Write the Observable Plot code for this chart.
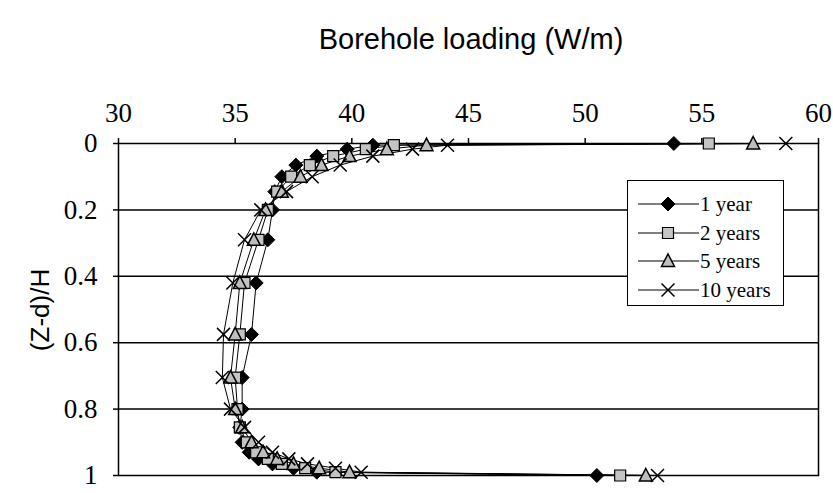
<!DOCTYPE html>
<html>
<head>
<meta charset="utf-8">
<script src="https://cdn.jsdelivr.net/npm/d3@7"></script>
<script src="https://cdn.jsdelivr.net/npm/@observablehq/plot@0.6"></script>
<style>
  html, body { margin: 0; padding: 0; background: #fff; }
  #wrap { position: relative; width: 833px; height: 493px; overflow: hidden; }
  #title { position: absolute; left: 0; width: 942px; top: 22px; text-align: center;
           font-family: "Liberation Sans", Arial, sans-serif; font-size: 29px; line-height: 34px; color: #000; }
  #ylabel { position: absolute; left: 40px; top: 310px; transform: translate(-50%, -50%) rotate(-90deg);
            font-family: "Liberation Sans", Arial, sans-serif; font-size: 26px; white-space: nowrap; color: #000; }
  #legend { position: absolute; left: 627px; top: 180px; width: 155px; height: 124px;
            border: 1.5px solid #000; background: #fff; }
  .row { position: absolute; left: 0; height: 28px; width: 155px; }
  .row svg { position: absolute; left: 8px; top: 0; }
  .row span { position: absolute; left: 72px; top: 0; line-height: 28px;
              font-family: "Liberation Serif", "Times New Roman", serif; font-size: 21px; color: #000; }
</style>
</head>
<body>
<div id="wrap">
  <div id="title"></div>
  <div id="ylabel"></div>
  <div id="chart"></div>
  <div id="legend"></div>
</div>
<script>
// ---- data ----
const titleText = "Borehole loading (W/m)";
const yLabelText = "(Z-d)/H";
const series = ["1 year", "2 years", "5 years", "10 years"];
const xTicks = [30, 35, 40, 45, 50, 55, 60];
const xTickLabels = ["30", "35", "40", "45", "50", "55", "60"];
const yTicks = [0, 0.2, 0.4, 0.6, 0.8, 1];
const yTickLabels = ["0", "0.2", "0.4", "0.6", "0.8", "1"];
const yGrid = [0.2, 0.4, 0.6, 0.8];

const depth = [0, 0.005, 0.017, 0.038, 0.065, 0.1, 0.145, 0.2, 0.29, 0.42, 0.575, 0.705, 0.8,
               0.855, 0.9, 0.93, 0.95, 0.965, 0.978, 0.99, 1.0];
const load1yr  = [53.8, 40.9, 39.8, 38.5, 37.6, 37.0, 36.7, 36.6, 36.4, 35.9, 35.7, 35.3, 35.3,
                  35.2, 35.3, 35.6, 36.0, 36.6, 37.5, 38.5, 50.5];
const load2yr  = [55.3, 41.8, 40.6, 39.2, 38.2, 37.4, 36.8, 36.4, 36.0, 35.4, 35.2, 35.0, 35.1,
                  35.2, 35.5, 35.9, 36.4, 37.0, 38.0, 39.3, 51.5];
const load5yr  = [57.2, 43.2, 41.5, 39.9, 38.7, 37.8, 37.0, 36.3, 35.8, 35.2, 35.0, 34.8, 35.0,
                  35.3, 35.7, 36.2, 36.8, 37.5, 38.6, 39.9, 52.6];
const load10yr = [58.6, 44.1, 42.6, 40.9, 39.5, 38.3, 37.2, 36.1, 35.4, 34.9, 34.5, 34.45, 34.8,
                  35.4, 36.0, 36.6, 37.3, 38.1, 39.3, 40.4, 53.1];

const loads = [load1yr, load2yr, load5yr, load10yr];
const rows = [];
series.forEach((s, k) => depth.forEach((d, i) => rows.push({series: s, depth: d, load: loads[k][i]})));

// ---- marker shapes ----
const diamondSym = {draw(c) { c.moveTo(0, -7); c.lineTo(7, 0); c.lineTo(0, 7); c.lineTo(-7, 0); c.closePath(); }};
const squareSym = {draw(c) { c.moveTo(-5.5, -5.5); c.lineTo(5.5, -5.5); c.lineTo(5.5, 5.5); c.lineTo(-5.5, 5.5); c.closePath(); }};
const triangleSym = {draw(c) { c.moveTo(0, -7); c.lineTo(6.5, 5.5); c.lineTo(-6.5, 5.5); c.closePath(); }};
const timesSym = {draw(c) { c.moveTo(-6.5, -6.5); c.lineTo(6.5, 6.5); c.moveTo(6.5, -6.5); c.lineTo(-6.5, 6.5); }};
const styles = [
  {symbol: diamondSym, fill: "#000", stroke: "#000", strokeWidth: 1},
  {symbol: squareSym, fill: "#c4c4c4", stroke: "#000", strokeWidth: 1.2},
  {symbol: triangleSym, fill: "#bdbdbd", stroke: "#000", strokeWidth: 1.5},
  {symbol: timesSym, fill: "none", stroke: "#000", strokeWidth: 1.5}
];

const dotMarks = series.map((s, k) => Plot.dot(rows.filter(r => r.series === s), {
  x: "load", y: "depth", symbol: styles[k].symbol, fill: styles[k].fill,
  stroke: styles[k].stroke, strokeWidth: styles[k].strokeWidth
}));

const chart = Plot.plot({
  width: 833, height: 493,
  marginLeft: 118, marginRight: 15, marginTop: 143, marginBottom: 18,
  style: {fontFamily: "Liberation Serif", fontSize: "27px", color: "#000", background: "transparent"},
  x: {domain: [30, 60]},
  y: {domain: [0, 1], reverse: true},
  marks: [
    Plot.ruleY(yGrid, {stroke: "#000", strokeWidth: 1.5}),
    Plot.frame({stroke: "#000", strokeWidth: 1.5}),
    Plot.axisX(xTicks, {anchor: "top", tickSize: 6, tickPadding: 16, strokeWidth: 1.5,
      tickFormat: d => xTickLabels[xTicks.indexOf(d)], label: null, fontSize: 27}),
    Plot.axisY(yTicks, {anchor: "left", tickSize: 5, tickPadding: 16, strokeWidth: 1.5,
      tickFormat: d => yTickLabels[yTicks.indexOf(d)], label: null, fontSize: 27}),
    Plot.line(rows, {x: "load", y: "depth", z: "series", stroke: "#000", strokeWidth: 1}),
    ...dotMarks
  ]
});
// serif tick labels at the reference size
d3.select(chart).selectAll("text")
  .attr("font-size", 27)
  .style("font-size", "27px")
  .style("font-family", "'Liberation Serif', serif");
document.getElementById("chart").appendChild(chart);

document.getElementById("title").textContent = titleText;
document.getElementById("ylabel").textContent = yLabelText;

// ---- legend ----
const legend = document.getElementById("legend");
series.forEach((s, k) => {
  const row = document.createElement("div");
  row.className = "row";
  row.style.top = (9 + k * 28.7) + "px";
  const svg = d3.create("svg").attr("width", 64).attr("height", 28);
  svg.append("line").attr("x1", 2).attr("x2", 63).attr("y1", 14).attr("y2", 14)
    .attr("stroke", "#000").attr("stroke-width", 1.2);
  const p = d3.path();
  styles[k].symbol.draw(p);
  svg.append("path").attr("d", p.toString()).attr("transform", "translate(32,14)")
    .attr("fill", styles[k].fill).attr("stroke", styles[k].stroke).attr("stroke-width", styles[k].strokeWidth);
  row.appendChild(svg.node());
  const span = document.createElement("span");
  span.textContent = s;
  row.appendChild(span);
  legend.appendChild(row);
});
</script>
</body>
</html>
